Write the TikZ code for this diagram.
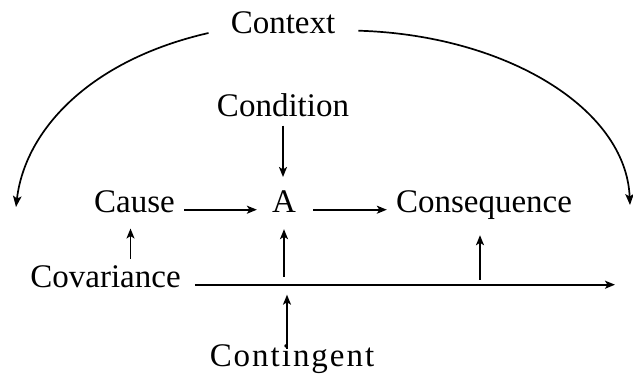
\documentclass[tikz,border=0pt]{standalone}
\usepackage{fontspec}
\setmainfont{Liberation Serif}
\newfontfamily\spacedserif{Liberation Serif}[LetterSpace=6]
\usetikzlibrary{arrows.meta}
\begin{document}
\begin{tikzpicture}[x=1pt,y=-1pt,
  term/.style={inner sep=0pt, anchor=base, font=\fontsize{33}{40}\selectfont},
  link/.style={line width=1.7pt, -{Stealth[length=10pt,width=8pt,inset=2.5pt]}},
  sweep/.style={line width=1.7pt, -{Stealth[length=11pt,width=8.5pt,inset=2.5pt]}}]
\useasboundingbox (0,0) rectangle (633,375);

% terms
\node[term] (context)     at (283,33)  {Context};
\node[term] (condition)   at (283,116) {Condition};
\node[term] (cause)       at (134.5,212) {Cause};
\node[term] (a)           at (284,212) {A};
\node[term] (consequence) at (484,212) {Consequence};
\node[term] (covariance)  at (105.5,287) {Covariance};
\node[term, font=\spacedserif\fontsize{33}{40}\selectfont] (contingent) at (292,366) {Contingent};

% helper points
\coordinate (xend)  at (615,0);
\coordinate (covend) at (covariance.mid -| xend);
\coordinate (xcons) at (480,0);
\coordinate (xcont) at (287,0);
\coordinate (j1) at (a.south |- covend);
\coordinate (j2) at (xcont |- covend);
\coordinate (j3) at (xcons |- covend);
\coordinate (cz) at ([xshift=-4pt]cause.south);
\coordinate (ctxL) at ([xshift=-22pt]context.base west);
\coordinate (ctxR) at ([xshift=23pt]context.mid east);
\coordinate (leftend) at (16,207);
\coordinate (rightend) at (630,205);

% context arcs
\draw[sweep] (ctxL) .. controls (90,60) and (25,130) .. (leftend);
\draw[sweep] (ctxR) .. controls (505,35) and (626,108) .. (rightend);

% main row
\draw[link, shorten <=9pt, shorten >=15pt] (cause.mid east) -- (a.mid west);
\draw[link, shorten <=17pt, shorten >=9pt] (a.mid east) -- (consequence.mid west);
\draw[link, shorten <=9pt, shorten >=13pt] (condition.south) -- (condition.south |- a.north);

% covariance line and its branches
\draw[link, line width=1.8pt, shorten <=14pt] (covariance.mid east) -- (covend);
\draw[link, shorten <=6pt, shorten >=16pt] (cz |- covariance.north) -- (cz);
\draw[link, shorten <=8pt, shorten >=17pt] (j1) -- (a.south);
\draw[link, shorten <=5pt, shorten >=16pt] (j3) -- (j3 |- consequence.south);
\draw[link, shorten <=-5pt, shorten >=10pt] (j2 |- contingent.north) -- (j2);
\end{tikzpicture}
\end{document}
